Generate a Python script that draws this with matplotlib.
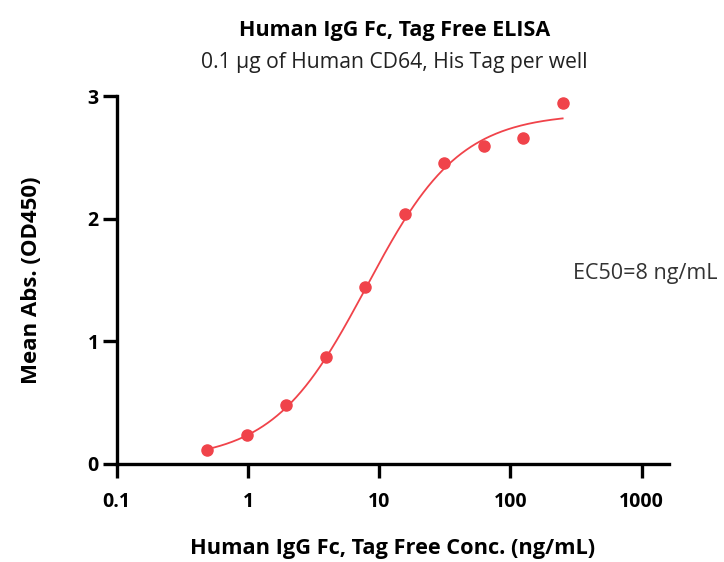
import numpy as np
import matplotlib
matplotlib.use('Agg')
import matplotlib.pyplot as plt
from matplotlib.ticker import FixedLocator, NullLocator

plt.rcParams['font.family'] = ['Open Sans', 'DejaVu Sans']

# Measured points (ng/mL vs OD450)
conc = [0.488, 0.977, 1.95, 3.9, 7.8, 15.6, 31.25, 62.5, 125, 250]
od450 = [0.11, 0.236, 0.478, 0.87, 1.445, 2.035, 2.456, 2.594, 2.662, 2.945]

# 4PL fit parameters
bottom = 0.03
top = 2.86
ec50 = 8.0
hill = 1.22

x_ticks = [0.1, 1, 10, 100, 1000]
x_tick_labels = ['0.1', '1', '10', '100', '1000']
y_ticks = [0, 1, 2, 3]

red = '#f0434a'

fig = plt.figure(figsize=(7.24, 5.62), dpi=100)
ax = fig.add_axes([0.1612, 0.1744, 0.924 - 0.1612, 0.829 - 0.1744])

# fitted curve
xf = np.logspace(np.log10(conc[0]), np.log10(conc[-1]), 300)
yf = bottom + (top - bottom) / (1 + (ec50 / xf) ** hill)
ax.plot(xf, yf, color=red, lw=1.3, zorder=2)
ax.plot(conc, od450, 'o', color=red, ms=8, zorder=3)

ax.set_xscale('log')
ax.set_xlim(0.1, 1615)
ax.set_ylim(0, 3)
ax.xaxis.set_major_locator(FixedLocator(x_ticks))
ax.xaxis.set_minor_locator(NullLocator())
ax.set_xticklabels(x_tick_labels)
ax.set_yticks(y_ticks)

for s in ['top', 'right']:
    ax.spines[s].set_visible(False)
for s in ['left', 'bottom']:
    ax.spines[s].set_linewidth(2.4)
ax.tick_params(width=2.4, length=10, labelsize=14, pad=3)
for lab in ax.get_xticklabels() + ax.get_yticklabels():
    lab.set_fontweight('bold')
ax.tick_params(axis='x', pad=10)

ax.set_xlabel('Human IgG Fc, Tag Free Conc. (ng/mL)', fontsize=15.7, fontweight='bold', labelpad=19)
ax.set_ylabel('Mean Abs. (OD450)', fontsize=16, fontweight='bold', labelpad=33)

fig.text(0.545, 0.945, 'Human IgG Fc, Tag Free ELISA', ha='center', va='center',
         fontsize=15.5, fontweight='bold')
fig.text(0.545, 0.889, '0.1 \u00b5g of Human CD64, His Tag per well', ha='center', va='center',
         fontsize=15.2, color='#222222')
ax.text(0.792, 0.514, 'EC50=8 ng/mL', transform=fig.transFigure, ha='left', va='center',
        fontsize=15.5, color='#333333')

fig.savefig('out.png', dpi=100)
